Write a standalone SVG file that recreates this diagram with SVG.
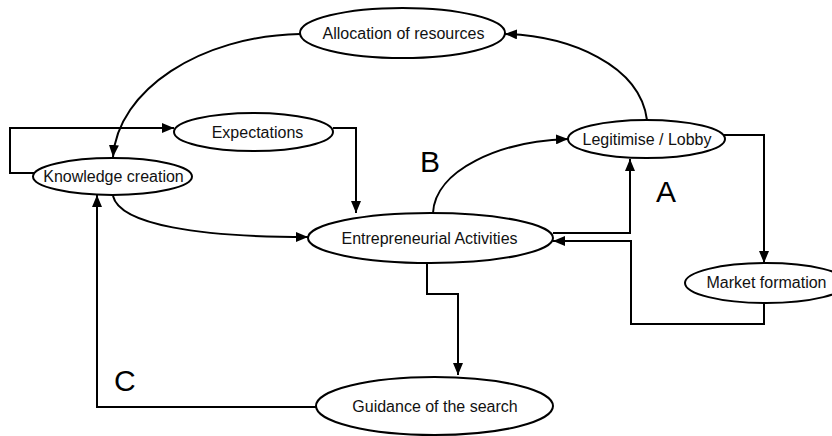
<svg xmlns="http://www.w3.org/2000/svg" width="832" height="436" viewBox="0 0 832 436">
<style>
.n ellipse{fill:#fff;stroke:#000;stroke-width:2}
.n text{font-family:"Liberation Sans",Arial,sans-serif;font-size:16px;text-anchor:middle;fill:#111}
.c path{fill:none;stroke:#000;stroke-width:2}
.lbl{font-family:"Liberation Sans",Arial,sans-serif;font-size:30px;fill:#000}
</style>
<defs>
<marker id="ah" viewBox="0 0 12 10" refX="12" refY="5" markerWidth="12" markerHeight="10" markerUnits="userSpaceOnUse" orient="auto">
<path d="M0,0 L12,5 L0,10 Z" fill="#000"/>
</marker>
</defs>
<g class="c">
<path d="M300,34 C200,36 118,90 113,157" marker-end="url(#ah)"/>
<path d="M35,173 L10,173 L10,128 L174,128" marker-end="url(#ah)"/>
<path d="M333,128 L356,128 L356,213" marker-end="url(#ah)"/>
<path d="M113,196 C120,225 200,237 308,237" marker-end="url(#ah)"/>
<path d="M433,213 C435,170 500,141 568,139" marker-end="url(#ah)"/>
<path d="M647,120 C640,65 570,36 505,34" marker-end="url(#ah)"/>
<path d="M553,233 L630,233 L630,159" marker-end="url(#ah)"/>
<path d="M724,135 L764,135 L764,263" marker-end="url(#ah)"/>
<path d="M764,303 L764,324 L631,324 L631,241 L553,241" marker-end="url(#ah)"/>
<path d="M427,263 L427,294 L458,294 L458,375" marker-end="url(#ah)"/>
<path d="M316,407 L97,407 L97,195" marker-end="url(#ah)"/>
</g>
<g id="allocation" class="n"><ellipse cx="402.5" cy="33" rx="102.5" ry="25"/><text x="403.5" y="39">Allocation of resources</text></g>
<g id="expectations" class="n"><ellipse cx="253.5" cy="132" rx="79.5" ry="19"/><text x="257.5" y="137.5">Expectations</text></g>
<g id="knowledge" class="n"><ellipse cx="112.5" cy="176.5" rx="79.5" ry="18.5"/><text x="113.5" y="182">Knowledge creation</text></g>
<g id="legitimise" class="n"><ellipse cx="646.5" cy="139" rx="78.5" ry="19"/><text x="647" y="145">Legitimise / Lobby</text></g>
<g id="entrepreneurial" class="n"><ellipse cx="430.5" cy="238" rx="122.5" ry="25"/><text x="429.5" y="243.5">Entrepreneurial Activities</text></g>
<g id="market" class="n"><ellipse cx="766" cy="283" rx="81" ry="20"/><text x="766.5" y="288">Market formation</text></g>
<g id="guidance" class="n"><ellipse cx="434.5" cy="406" rx="118.5" ry="29"/><text x="435" y="412">Guidance of the search</text></g>
<text class="lbl" x="420" y="172">B</text>
<text class="lbl" x="656" y="202">A</text>
<text class="lbl" x="114" y="391">C</text>
</svg>
